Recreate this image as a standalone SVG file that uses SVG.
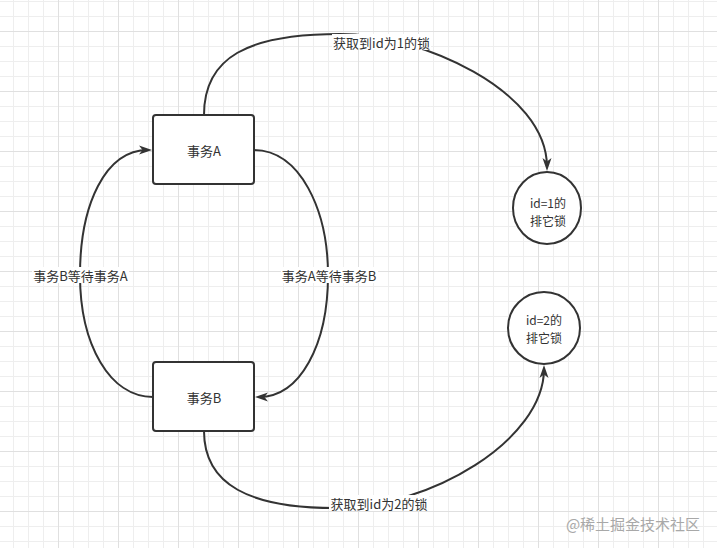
<svg xmlns="http://www.w3.org/2000/svg" width="717" height="548" viewBox="0 0 717 548">
  <defs>
    <pattern id="grid" patternUnits="userSpaceOnUse" x="58" y="31" width="60" height="60">
      <path d="M15.5,0V60M30.5,0V60M45.5,0V60M0,15.5H60M0,30.5H60M0,45.5H60" stroke="#eeeeee" stroke-width="1" fill="none"/>
      <path d="M0.5,0V60M0,0.5H60" stroke="#e0e0e0" stroke-width="1" fill="none"/>
    </pattern>
    <marker id="arrow" markerUnits="userSpaceOnUse" markerWidth="14" markerHeight="10" refX="9" refY="4.5" orient="auto" overflow="visible">
      <path d="M0,0 L13,4.5 L0,9 L3.5,4.5 z" fill="#333333"/>
    </marker>
    <style>
      .box { fill: #ffffff; stroke: #333333; stroke-width: 2; }
      .edge { fill: none; stroke: #333333; stroke-width: 2; }
      .txt { font-family: "Noto Sans CJK SC", "Liberation Sans", sans-serif; font-size: 13px; fill: #333333; text-anchor: middle; dominant-baseline: central; }
      .ctxt { font-family: "Noto Sans CJK SC", "Liberation Sans", sans-serif; font-size: 12px; fill: #333333; text-anchor: middle; dominant-baseline: central; }
      .lblbg { fill: #ffffff; }
      .wm { font-family: "Noto Sans CJK SC", "Liberation Sans", sans-serif; font-size: 15px; fill: #a8a8a8; text-anchor: middle; dominant-baseline: central; }
    </style>
  </defs>

  <rect x="0" y="0" width="717" height="548" fill="#ffffff"/>
  <rect x="0" y="0" width="717" height="548" fill="url(#grid)"/>

  <g id="connectors">
    <path class="edge" d="M204,115 C204,57 248,34 340,34 C420,34 547,90 547,167" marker-end="url(#arrow)"/>
    <path class="edge" d="M204,431 C204,485 250,508 335,508 C430,508 544,440 544,369" marker-end="url(#arrow)"/>
    <path class="edge" d="M153,397 C110,397 80,345 80,275 C80,205 105,150 148,150" marker-end="url(#arrow)"/>
    <path class="edge" d="M254,150 C300,150 328,210 328,275 C328,345 300,397 259,397" marker-end="url(#arrow)"/>
    <g id="edge-labels">
      <rect class="lblbg" x="332" y="34" width="99" height="16"/>
      <text class="txt" x="381.5" y="42">获取到id为1的锁</text>
      <rect class="lblbg" x="329" y="495" width="100" height="16"/>
      <text class="txt" x="379" y="503">获取到id为2的锁</text>
      <rect class="lblbg" x="32" y="267" width="97" height="16"/>
      <text class="txt" x="80.5" y="275">事务B等待事务A</text>
      <rect class="lblbg" x="281" y="267" width="97" height="16"/>
      <text class="txt" x="329" y="275">事务A等待事务B</text>
    </g>
  </g>

  <g id="node-txA">
    <rect class="box" x="153" y="115" width="101" height="69" rx="3"/>
    <text class="txt" x="204" y="150">事务A</text>
  </g>
  <g id="node-txB">
    <rect class="box" x="153" y="362" width="101" height="69" rx="3"/>
    <text class="txt" x="204" y="397">事务B</text>
  </g>
  <g id="node-lock1">
    <ellipse class="box" cx="547" cy="208" rx="34" ry="36"/>
    <text class="ctxt" x="548" y="202">id=1的</text>
    <text class="ctxt" x="548" y="220">排它锁</text>
  </g>
  <g id="node-lock2">
    <ellipse class="box" cx="544" cy="328" rx="36" ry="36"/>
    <text class="ctxt" x="544" y="319">id=2的</text>
    <text class="ctxt" x="544" y="337">排它锁</text>
  </g>

  <text class="wm" x="633" y="523">@稀土掘金技术社区</text>
</svg>
